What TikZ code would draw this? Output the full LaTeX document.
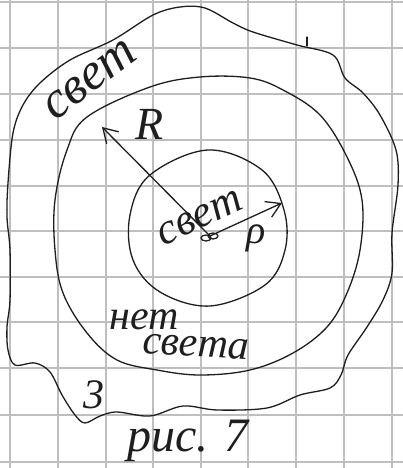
\documentclass[tikz,border=0pt]{standalone}
\usepackage{fontspec}
\setmainfont{Liberation Serif}
\usetikzlibrary{arrows.meta,positioning}
\definecolor{sketchink}{HTML}{1E1E1E}
\definecolor{gridgray}{HTML}{BEBEBE}

\tikzset{
  inkline/.style={line width=1.3pt,draw=sketchink,line join=round,line cap=round},
  gridline/.style={line width=1.1pt,draw=gridgray},
  handtext/.style={font=\itshape\fontsize{#1}{#1}\selectfont,text=sketchink,inner sep=0pt},
  radiusarrow/.style={inkline,-{Straight Barb[length=14pt,width=17pt,line width=1.3pt]}}
}

\begin{document}
\begin{tikzpicture}[x=1pt,y=-1pt]
  \useasboundingbox (0,0) rectangle (403,468);
  \fill[white] (0,0) rectangle (403,468);

  % squared paper
  \foreach \x in {10,58,106,153,201,248,296,344,392}
    \draw[gridline] (\x,0) -- (\x,468);
  \foreach \y in {2,48,94,140,186,231,277,322,368,415,462}
    \draw[gridline] (0,\y) -- (403,\y);

  % outer blob
  \draw[inkline] plot[smooth cycle,tension=.55] coordinates {
    (40,83) (70,60) (113,40) (153,15) (180,7) (205,8) (233,23) (253,32)
    (297,45) (333,55) (345,78) (363,93) (380,115) (396,150) (398,185)
    (392,233) (392,273) (383,300) (367,327) (348,355) (341,375) (330,388)
    (300,395) (267,408) (217,410) (183,406) (150,416) (117,412) (100,416)
    (85,423) (75,415) (62,395) (50,372) (35,363) (15,365) (8,350) (7,327)
    (10,300) (10,250) (7,217) (8,183) (13,133) (23,105)};
  \draw[inkline] (307,37) -- (307,46);

  % middle ring
  \draw[inkline] plot[smooth cycle,tension=.6] coordinates {
    (200,77) (250,78) (283,90) (320,115) (347,157) (362,200) (360,250)
    (347,293) (327,327) (293,353) (250,370) (200,375) (157,370) (117,360)
    (87,333) (63,293) (55,250) (55,200) (67,150) (87,117) (150,87)};

  % inner disc
  \draw[inkline] plot[smooth cycle,tension=.6] coordinates {
    (208,150) (262,170) (284,210) (285,250) (265,285) (210,306)
    (160,292) (133,260) (130,215) (150,175)};

  % centre and radii
  \coordinate (centre) at (210,236);
  \coordinate (rtip) at (102,127);
  \coordinate (rhotip) at (282,203);
  \draw[inkline] (206,238) ellipse (5pt and 3pt);
  \draw[inkline] (213,236) ellipse (5pt and 3pt);
  \draw[radiusarrow] (centre) -- (rtip);
  \draw[radiusarrow] (centre) -- (rhotip);

  % labels
  \node[handtext=52,rotate=37] (lightout) at (90,80) {свет};
  \node[handtext=46] (rlabel) at (150,124) {R};
  \node[handtext=44,rotate=25] (lightin) at (200,218) {свет};
  \node[handtext=40] (rholabel) at (256,238) {ρ};
  \node[handtext=42] (nolight) at (144,320) {нет};
  \node[handtext=42,rotate=-3] (nolighttwo) at (196,347) {света};
  \node[handtext=42] (regionnum) at (94,395) {3};
  \node[handtext=48] (caption) at (188,441) {рис. 7};
\end{tikzpicture}
\end{document}
